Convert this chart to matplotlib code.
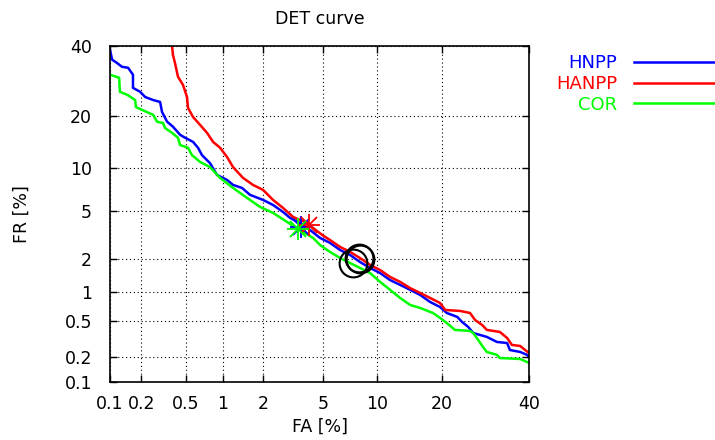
from statistics import NormalDist
import numpy as np
import matplotlib
matplotlib.use("Agg")
import matplotlib.pyplot as plt
from matplotlib.lines import Line2D

plt.rcParams['font.family'] = ['DejaVu Sans']

ticks = [0.1, 0.2, 0.5, 1, 2, 5, 10, 20, 40]
tick_labels = ["0.1", "0.2", "0.5", "1", "2", "5", "10", "20", "40"]

# DET curves, FA [%] vs FR [%]
hnpp_fa = [0.100, 0.105, 0.117, 0.131, 0.150, 0.167, 0.167, 0.195, 0.217, 0.257, 0.297, 0.309,
           0.343, 0.386, 0.445, 0.491, 0.573, 0.631, 0.681, 0.791, 0.900, 1.078, 1.200, 1.403,
           1.609, 2.00, 2.35, 2.75, 3.07, 3.56, 4.13, 4.76, 5.47, 6.27, 7.15, 8.11, 9.18, 10.35,
           11.62, 13.0, 14.5, 16.1, 17.8, 19.6, 20.9, 23.0, 24.0, 25.3, 26.4, 29.5, 31.9, 34.4,
           35.1, 37.7, 39.5, 40.0]
hnpp_fr = [38.7, 35.6, 34.6, 33.4, 33.1, 31.0, 27.2, 26.1, 24.7, 23.9, 23.4, 20.9,
           18.6, 17.5, 15.8, 15.2, 14.4, 13.3, 12.0, 10.7, 8.98, 8.32, 7.69, 7.33,
           6.55, 6.02, 5.53, 4.90, 4.41, 4.03, 3.54, 3.05, 2.77, 2.41, 2.18, 1.89, 1.67, 1.50,
           1.29, 1.16, 1.04, 0.926, 0.788, 0.701, 0.608, 0.553, 0.489, 0.433, 0.372, 0.337, 0.296, 0.288,
           0.240, 0.228, 0.211, 0.200]

hanpp_fa = [0.379, 0.386, 0.402, 0.427, 0.472, 0.510, 0.520, 0.573, 0.656, 0.748, 0.836, 0.951,
            1.078, 1.200, 1.428, 1.692, 2.00, 2.35, 2.75, 3.21, 3.95, 4.31, 4.90, 5.47, 6.27,
            7.15, 8.11, 9.18, 10.35, 11.62, 13.0, 14.5, 16.1, 17.8, 19.6, 20.6, 23.6, 25.7,
            26.8, 28.4, 29.5, 32.6, 34.4, 35.6, 37.7, 39.0, 40.0]
hanpp_fr = [40.0, 37.1, 34.6, 30.4, 28.0, 24.7, 21.9, 19.7, 17.9, 16.2, 14.4, 13.3,
            11.7, 10.1, 8.58, 7.69, 7.10, 6.02, 5.26, 4.49, 4.03, 3.68, 3.23, 2.93, 2.56,
            2.32, 2.05, 1.78, 1.60, 1.38, 1.24, 1.08, 0.969, 0.864, 0.770, 0.653, 0.638, 0.608,
            0.514, 0.455, 0.402, 0.382, 0.328, 0.274, 0.267, 0.240, 0.222]

cor_fa = [0.100, 0.123, 0.125, 0.147, 0.175, 0.178, 0.203, 0.257, 0.279, 0.316, 0.329, 0.379,
          0.427, 0.445, 0.520, 0.562, 0.656, 0.791, 0.951, 1.200, 1.530, 1.90, 2.35, 2.93,
          3.56, 4.31, 4.76, 5.47, 6.27, 7.15, 8.11, 9.18, 10.35, 11.62, 13.0, 14.5, 16.1,
          18.3, 19.6, 20.9, 22.5, 25.7, 26.4, 27.5, 28.6, 29.5, 31.9, 32.6, 37.7, 39.5, 40.0]
cor_fr = [31.0, 30.1, 26.1, 25.3, 23.9, 22.1, 21.4, 20.2, 18.6, 18.3, 17.2, 16.2,
          15.2, 13.8, 13.3, 12.0, 10.9, 10.1, 8.58, 7.33, 6.23, 5.35, 4.82, 4.10,
          3.54, 3.05, 2.66, 2.32, 2.05, 1.85, 1.67, 1.50, 1.24, 1.04, 0.864, 0.735, 0.685,
          0.608, 0.540, 0.477, 0.402, 0.392, 0.372, 0.312, 0.260, 0.228, 0.211, 0.194, 0.189, 0.174, 0.170]

# operating points (star) and second operating points (circle)
star_fa = [3.62, 4.07, 3.46]
star_fr = [3.75, 3.89, 3.61]
circ_fa = [8.02, 8.1, 7.42]
circ_fr = [2.05, 2.0, 1.85]

names = ["HNPP", "HANPP", "COR"]
colors = ["#0000ff", "#ff0000", "#00ff00"]

_nd = NormalDist()


def probit(p):
    p = np.clip(np.asarray(p, dtype=float) / 100.0, 1e-9, 1 - 1e-9)
    return np.vectorize(_nd.inv_cdf, otypes=[float])(p)


def inv_probit(z):
    z = np.asarray(z, dtype=float)
    return np.vectorize(_nd.cdf, otypes=[float])(z) * 100.0


fig = plt.figure(figsize=(7.15, 4.4), dpi=100)
ax = fig.add_axes([110 / 715, 58 / 440, 419 / 715, 336 / 440])
ax.set_xscale('function', functions=(probit, inv_probit))
ax.set_yscale('function', functions=(probit, inv_probit))

curves = [(hnpp_fa, hnpp_fr), (hanpp_fa, hanpp_fr), (cor_fa, cor_fr)]
for (fa, fr), name, c in zip(curves, names, colors):
    ax.plot(fa, fr, color=c, lw=1.8, label=name)

for i, c in enumerate(colors):
    ax.plot(star_fa[i], star_fr[i], marker='+', ms=16, mew=1.3, color=c)
    ax.plot(star_fa[i], star_fr[i], marker='x', ms=11, mew=1.3, color=c)
    ax.plot(circ_fa[i], circ_fr[i], marker='o', ms=20, mew=1.5, mfc='none', mec='black')

ax.set_xlim(0.1, 40)
ax.set_ylim(0.1, 40)
ax.set_xticks(ticks)
ax.set_xticklabels(tick_labels)
ax.set_yticks(ticks)
ax.set_yticklabels(tick_labels)
ax.minorticks_off()
ax.tick_params(direction='in', length=5, width=1, top=True, right=True, labelsize=12.5)
ax.tick_params(axis='x', pad=9)
ax.tick_params(axis='y', pad=13)
ax.grid(True, color='black', linestyle=(0, (1, 2.5)), lw=0.8)
for s in ax.spines.values():
    s.set_linewidth(1.2)

ax.set_title("DET curve", fontsize=12.5, pad=16)
ax.set_xlabel("FA [%]", fontsize=12.5, labelpad=4)
ax.set_ylabel("FR [%]", fontsize=12.5, labelpad=24)

handles = [Line2D([], [], color=c, lw=1.8) for c in colors]
leg = fig.legend(handles, names, loc='upper right', bbox_to_anchor=(722 / 715, 1 - 54 / 440),
                 frameon=False, markerfirst=False, handlelength=4.9, handletextpad=0.9,
                 labelspacing=0.16, borderpad=0, borderaxespad=0, fontsize=13)
for t, c in zip(leg.get_texts(), colors):
    t.set_color(c)

fig.savefig("out.png", dpi=100)
